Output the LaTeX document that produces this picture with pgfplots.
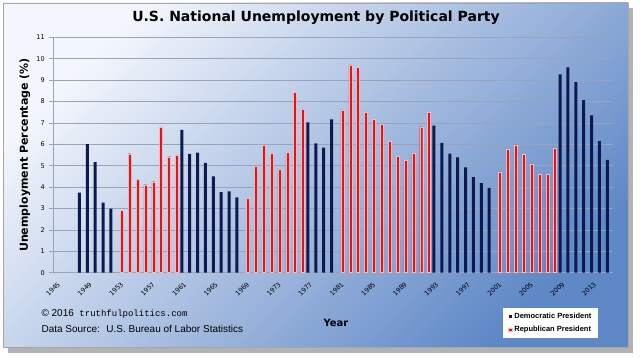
\documentclass[border=0pt]{standalone}
\usepackage{pgfplots}
\pgfplotsset{compat=1.18}
\usepackage{pgfplotstable}
\usepackage{fontspec}
\setmainfont{Liberation Sans}
\newfontfamily\monofont{Liberation Mono}
\newfontfamily\dejavu{DejaVu Sans}
\definecolor{dem}{HTML}{0D1A4F}
\definecolor{rep}{HTML}{E3141B}
\definecolor{bgA}{HTML}{F3F6FC}
\definecolor{bgB}{HTML}{C4D4EE}
\definecolor{bgC}{HTML}{5F88C6}
\definecolor{gridc}{HTML}{9AA4B8}

\pgfplotstableread{
year val
1948 3.74
1949 6.01
1950 5.17
1951 3.27
1952 2.99
1961 6.67
1962 5.55
1963 5.61
1964 5.13
1965 4.50
1966 3.76
1967 3.80
1968 3.52
1977 7.03
1978 6.04
1979 5.84
1980 7.17
1993 6.87
1994 6.07
1995 5.56
1996 5.39
1997 4.92
1998 4.47
1999 4.19
2000 3.96
2009 9.27
2010 9.60
2011 8.91
2012 8.06
2013 7.35
2014 6.15
2015 5.27
}\demdata

\pgfplotstableread{
year val
1953 2.92
1954 5.56
1955 4.35
1956 4.11
1957 4.25
1958 6.81
1959 5.42
1960 5.51
1969 3.46
1970 4.97
1971 5.94
1972 5.59
1973 4.85
1974 5.62
1975 8.44
1976 7.66
1981 7.61
1982 9.71
1983 9.58
1984 7.48
1985 7.18
1986 6.96
1987 6.15
1988 5.45
1989 5.25
1990 5.59
1991 6.82
1992 7.48
2001 4.71
2002 5.76
2003 5.98
2004 5.53
2005 5.08
2006 4.60
2007 4.60
2008 5.80
}\repdata

\begin{document}
\begin{tikzpicture}[x=1pt,y=1pt]
\useasboundingbox (0,0) rectangle (640,358);
\fill[black!30] (8,5) rectangle (633,350);
\shade[top color=bgA, middle color=bgB, bottom color=bgC, shading angle=45] (3,11) rectangle (628,355);
\draw[gray!70, line width=0.6pt] (3,11) rectangle (628,355);

\begin{axis}[
  at={(53.3pt,85.3pt)}, anchor=south west,
  scale only axis, width=559.5pt, height=235.4pt,
  xmin=1944.5, xmax=2015.5, ymin=0, ymax=11,
  ybar, bar width=3pt,
  xtick={1945,1949,...,2013},
  ytick={0,1,...,11},
  /pgf/number format/1000 sep={},
  /pgf/number format/assume math mode=true,
  ymajorgrids, grid style={gridc, line width=0.6pt},
  axis lines*=left,
  axis line style={gridc, line width=0.6pt},
  x tick style={draw=none},
  y tick style={gridc, line width=0.6pt},
  tick align=outside, major tick length=4pt,
  yticklabel style={font=\dejavu\fontsize{6.5}{8}\selectfont, xshift=-1pt},
  xticklabel style={font=\dejavu\fontsize{6.5}{8}\selectfont, rotate=45, anchor=east, yshift=-6pt},
  legend style={at={(0.804,-0.15)}, anchor=north west, draw=none, fill=white,
    font=\bfseries\fontsize{7.5}{8.5}\selectfont, inner xsep=5pt, inner ysep=3pt, row sep=2pt},
  legend cell align=left,
  legend image code/.code={\fill[#1] (0pt,-1.8pt) rectangle (3.6pt,1.8pt);},
]
\addplot[fill=dem, draw=none, bar shift=-1.5pt] table[x=year,y=val]{\demdata};
\addplot[fill=rep, draw={rgb,255:red,250;green,185;blue,185}, line width=0.4pt, bar shift=1.5pt] table[x=year,y=val]{\repdata};
\legend{Democratic President\hspace{14pt}, Republican President\hspace{14pt}}
\end{axis}

\node[font=\dejavu\bfseries\fontsize{14}{16}\selectfont] at (316,340) {U.S. National Unemployment by Political Party};
\node[rotate=90, font=\dejavu\bfseries\fontsize{11}{13}\selectfont] at (25,203) {Unemployment Percentage (\%)};
\node[font=\dejavu\bfseries\fontsize{10}{12}\selectfont] at (336,35) {Year};
\node[anchor=west, font=\fontsize{10}{12}\selectfont] at (38,44) {\textcopyright\ 2016 \ {\monofont\fontsize{9}{11}\selectfont truthfulpolitics.com}};
\node[anchor=west, font=\fontsize{10}{12}\selectfont] at (38,29) {Data Source: \ U.S. Bureau of Labor Statistics};
\end{tikzpicture}
\end{document}
